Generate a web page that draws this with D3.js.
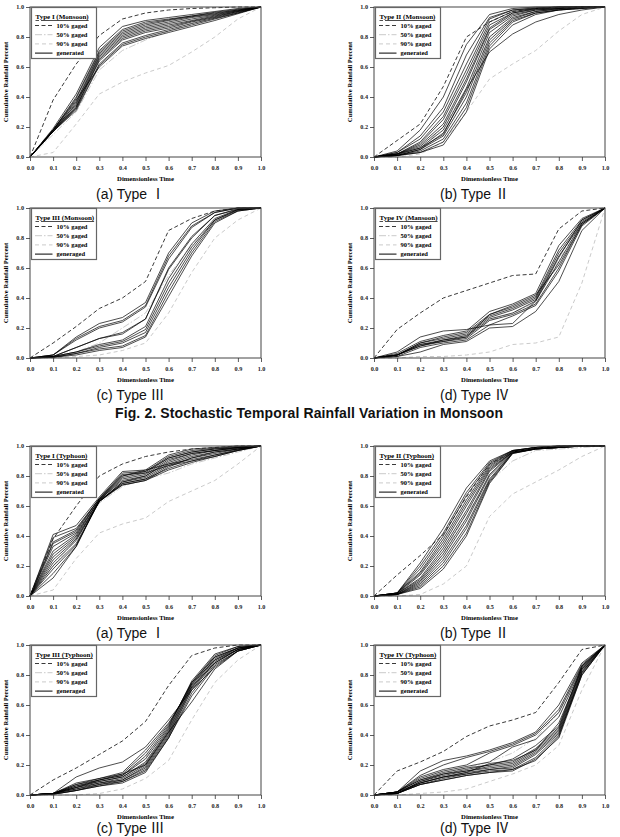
<!DOCTYPE html>
<html>
<head>
<meta charset="utf-8">
<script src="https://cdn.jsdelivr.net/npm/d3@7"></script>
<style>
  body { margin: 0; background: #fff; }
  svg { display: block; }
  .tick text { font-family: "Liberation Serif", serif; font-weight: bold; font-size: 6.2px; fill: #222; }
  .tick line { stroke: #333; stroke-width: 0.8; }
  .domain { display: none; }
</style>
</head>
<body>
<div id="chart"></div>
<script>
// dimensionless time steps and axis ticks
var timeSteps = [0, 0.1, 0.2, 0.3, 0.4, 0.5, 0.6, 0.7, 0.8, 0.9, 1.0];
var xTicks = [0, 0.1, 0.2, 0.3, 0.4, 0.5, 0.6, 0.7, 0.8, 0.9, 1.0];
var yTicks = [0, 0.2, 0.4, 0.6, 0.8, 1.0];

var legendLabels = ['10% gaged', '50% gaged', '90% gaged', 'generated'];
var captions = ['(a)  Type  \u2160', '(b)  Type  \u2161', '(c)  Type  \u2162', '(d)  Type  \u2163'];
var figTitle = 'Fig. 2. Stochastic Temporal Rainfall Variation in Monsoon';

// Type I (Monsoon)
var m1Gaged10 = [0, 0.38, 0.62, 0.81, 0.92, 0.96, 0.98, 0.99, 0.995, 1, 1];
var m1Gaged50 = [0, 0.15, 0.30, 0.58, 0.71, 0.78, 0.84, 0.89, 0.93, 0.97, 1];
var m1Gaged90 = [0, 0.03, 0.22, 0.42, 0.50, 0.56, 0.61, 0.70, 0.80, 0.92, 1];
var m1Gen = [
  [0, 0.19, 0.42, 0.73, 0.87, 0.91, 0.93, 0.95, 0.97, 0.99, 1],
  [0, 0.18, 0.40, 0.71, 0.85, 0.90, 0.92, 0.94, 0.965, 0.985, 1],
  [0, 0.18, 0.39, 0.70, 0.84, 0.89, 0.915, 0.94, 0.96, 0.98, 1],
  [0, 0.18, 0.37, 0.69, 0.83, 0.88, 0.91, 0.935, 0.955, 0.98, 1],
  [0, 0.17, 0.36, 0.68, 0.82, 0.87, 0.90, 0.93, 0.95, 0.975, 1],
  [0, 0.18, 0.35, 0.67, 0.81, 0.86, 0.89, 0.92, 0.945, 0.975, 1],
  [0, 0.17, 0.34, 0.66, 0.80, 0.85, 0.88, 0.91, 0.94, 0.97, 1],
  [0, 0.17, 0.33, 0.65, 0.79, 0.84, 0.87, 0.905, 0.935, 0.97, 1],
  [0, 0.18, 0.33, 0.64, 0.78, 0.83, 0.86, 0.90, 0.93, 0.965, 1],
  [0, 0.17, 0.32, 0.62, 0.76, 0.81, 0.85, 0.89, 0.925, 0.96, 1],
  [0, 0.17, 0.31, 0.61, 0.75, 0.80, 0.84, 0.88, 0.92, 0.96, 1],
  [0, 0.18, 0.38, 0.60, 0.74, 0.79, 0.83, 0.87, 0.91, 0.955, 1]
];

// Type II (Monsoon)
var m2Gaged10 = [0, 0.11, 0.22, 0.47, 0.80, 0.90, 0.97, 0.99, 1, 1, 1];
var m2Gaged50 = [0, 0.01, 0.05, 0.20, 0.45, 0.80, 0.92, 0.96, 0.98, 0.99, 1];
var m2Gaged90 = [0, 0.0, 0.02, 0.10, 0.30, 0.52, 0.62, 0.71, 0.84, 0.95, 1];
var m2Gen = [
  [0, 0.04, 0.18, 0.40, 0.75, 0.95, 0.99, 1, 1, 1, 1],
  [0, 0.03, 0.14, 0.33, 0.68, 0.93, 0.98, 0.995, 1, 1, 1],
  [0, 0.03, 0.12, 0.30, 0.62, 0.92, 0.98, 0.99, 1, 1, 1],
  [0, 0.02, 0.10, 0.27, 0.58, 0.90, 0.97, 0.99, 1, 1, 1],
  [0, 0.02, 0.09, 0.25, 0.55, 0.88, 0.96, 0.99, 0.995, 1, 1],
  [0, 0.02, 0.08, 0.22, 0.52, 0.86, 0.96, 0.985, 0.995, 1, 1],
  [0, 0.02, 0.07, 0.20, 0.50, 0.85, 0.95, 0.98, 0.99, 1, 1],
  [0, 0.015, 0.06, 0.18, 0.46, 0.83, 0.94, 0.98, 0.99, 1, 1],
  [0, 0.01, 0.05, 0.16, 0.43, 0.80, 0.93, 0.97, 0.99, 1, 1],
  [0, 0.01, 0.05, 0.14, 0.40, 0.78, 0.92, 0.97, 0.985, 0.995, 1],
  [0, 0.01, 0.04, 0.12, 0.36, 0.76, 0.91, 0.96, 0.98, 0.995, 1],
  [0, 0.01, 0.03, 0.10, 0.33, 0.74, 0.90, 0.96, 0.98, 0.99, 1],
  [0, 0.01, 0.03, 0.08, 0.30, 0.72, 0.88, 0.95, 0.98, 0.99, 1],
  [0, 0.02, 0.06, 0.15, 0.45, 0.70, 0.82, 0.90, 0.95, 0.98, 1]
];

// Type III (Monsoon)
var m3Gaged10 = [0, 0.10, 0.21, 0.33, 0.40, 0.51, 0.85, 0.93, 0.98, 1, 1];
var m3Gaged50 = [0, 0.01, 0.04, 0.10, 0.20, 0.30, 0.55, 0.75, 0.92, 0.98, 1];
var m3Gaged90 = [0, 0.0, 0.01, 0.02, 0.05, 0.10, 0.30, 0.57, 0.80, 0.92, 1];
var m3Gen = [
  [0, 0.02, 0.14, 0.23, 0.27, 0.37, 0.70, 0.90, 0.98, 1, 1],
  [0, 0.02, 0.13, 0.21, 0.25, 0.35, 0.68, 0.88, 0.97, 1, 1],
  [0, 0.02, 0.12, 0.20, 0.24, 0.34, 0.66, 0.87, 0.97, 1, 1],
  [0, 0.01, 0.07, 0.13, 0.17, 0.26, 0.60, 0.81, 0.95, 0.995, 1],
  [0, 0.01, 0.07, 0.13, 0.16, 0.26, 0.59, 0.80, 0.95, 0.99, 1],
  [0, 0.01, 0.04, 0.09, 0.12, 0.21, 0.53, 0.76, 0.93, 0.99, 1],
  [0, 0.01, 0.04, 0.08, 0.11, 0.19, 0.50, 0.74, 0.92, 0.99, 1],
  [0, 0.005, 0.03, 0.07, 0.10, 0.17, 0.47, 0.72, 0.92, 0.985, 1],
  [0, 0.005, 0.03, 0.06, 0.08, 0.15, 0.44, 0.70, 0.91, 0.98, 1],
  [0, 0.005, 0.02, 0.05, 0.07, 0.14, 0.41, 0.68, 0.90, 0.98, 1]
];

// Type IV (Monsoon)
var m4Gaged10 = [0, 0.19, 0.30, 0.40, 0.45, 0.50, 0.55, 0.56, 0.86, 0.98, 1];
var m4Gaged50 = [0, 0.02, 0.08, 0.12, 0.15, 0.25, 0.30, 0.37, 0.65, 0.90, 1];
var m4Gaged90 = [0, 0.0, 0.01, 0.01, 0.02, 0.04, 0.09, 0.10, 0.14, 0.50, 1];
var m4Gen = [
  [0, 0.04, 0.14, 0.18, 0.19, 0.22, 0.23, 0.38, 0.67, 0.92, 1],
  [0, 0.03, 0.11, 0.15, 0.18, 0.31, 0.36, 0.43, 0.75, 0.93, 1],
  [0, 0.02, 0.10, 0.14, 0.17, 0.29, 0.34, 0.41, 0.72, 0.92, 1],
  [0, 0.02, 0.10, 0.13, 0.16, 0.28, 0.33, 0.40, 0.70, 0.91, 1],
  [0, 0.02, 0.09, 0.12, 0.15, 0.27, 0.32, 0.39, 0.68, 0.90, 1],
  [0, 0.02, 0.08, 0.12, 0.14, 0.26, 0.30, 0.38, 0.64, 0.90, 1],
  [0, 0.02, 0.09, 0.11, 0.13, 0.25, 0.29, 0.36, 0.60, 0.89, 1],
  [0, 0.01, 0.07, 0.10, 0.12, 0.22, 0.28, 0.35, 0.58, 0.88, 1],
  [0, 0.01, 0.04, 0.09, 0.11, 0.20, 0.21, 0.31, 0.51, 0.85, 1],
  [0, 0.02, 0.08, 0.11, 0.14, 0.29, 0.35, 0.42, 0.62, 0.89, 1]
];

// Type I (Typhoon)
var t1Gaged10 = [0, 0.38, 0.60, 0.80, 0.88, 0.93, 0.96, 0.98, 0.99, 1, 1];
var t1Gaged50 = [0, 0.20, 0.38, 0.62, 0.73, 0.78, 0.82, 0.88, 0.92, 0.96, 1];
var t1Gaged90 = [0, 0.04, 0.25, 0.42, 0.48, 0.52, 0.63, 0.70, 0.77, 0.88, 1];
var t1Gen = [
  [0, 0.41, 0.47, 0.66, 0.83, 0.84, 0.94, 0.98, 0.99, 1, 1],
  [0, 0.36, 0.44, 0.65, 0.82, 0.83, 0.93, 0.97, 0.985, 0.995, 1],
  [0, 0.35, 0.43, 0.65, 0.80, 0.83, 0.92, 0.96, 0.98, 0.99, 1],
  [0, 0.33, 0.42, 0.64, 0.79, 0.82, 0.92, 0.96, 0.98, 0.99, 1],
  [0, 0.30, 0.41, 0.64, 0.78, 0.81, 0.91, 0.95, 0.97, 0.99, 1],
  [0, 0.28, 0.40, 0.64, 0.77, 0.80, 0.90, 0.95, 0.97, 0.99, 1],
  [0, 0.26, 0.39, 0.63, 0.76, 0.80, 0.89, 0.94, 0.97, 0.985, 1],
  [0, 0.24, 0.38, 0.63, 0.76, 0.79, 0.88, 0.93, 0.96, 0.98, 1],
  [0, 0.22, 0.37, 0.63, 0.75, 0.78, 0.87, 0.92, 0.96, 0.98, 1],
  [0, 0.20, 0.35, 0.63, 0.74, 0.77, 0.86, 0.92, 0.95, 0.98, 1],
  [0, 0.18, 0.34, 0.63, 0.75, 0.78, 0.85, 0.90, 0.94, 0.975, 1],
  [0, 0.15, 0.33, 0.64, 0.74, 0.77, 0.84, 0.89, 0.93, 0.97, 1],
  [0, 0.12, 0.33, 0.64, 0.80, 0.84, 0.88, 0.91, 0.94, 0.97, 1],
  [0, 0.39, 0.45, 0.65, 0.81, 0.82, 0.87, 0.90, 0.93, 0.97, 1]
];

// Type II (Typhoon)
var t2Gaged10 = [0, 0.14, 0.27, 0.41, 0.66, 0.88, 0.96, 0.99, 1, 1, 1];
var t2Gaged50 = [0, 0.02, 0.10, 0.28, 0.55, 0.76, 0.90, 0.97, 0.98, 0.99, 1];
var t2Gaged90 = [0, 0.0, 0.01, 0.08, 0.20, 0.53, 0.68, 0.76, 0.84, 0.93, 1];
var t2Gen = [
  [0, 0.02, 0.22, 0.45, 0.72, 0.90, 0.97, 0.99, 1, 1, 1],
  [0, 0.02, 0.20, 0.42, 0.69, 0.89, 0.97, 0.99, 1, 1, 1],
  [0, 0.02, 0.18, 0.40, 0.67, 0.88, 0.97, 0.99, 1, 1, 1],
  [0, 0.02, 0.16, 0.38, 0.64, 0.87, 0.965, 0.99, 0.995, 1, 1],
  [0, 0.02, 0.15, 0.36, 0.62, 0.86, 0.965, 0.99, 0.995, 1, 1],
  [0, 0.015, 0.14, 0.34, 0.60, 0.85, 0.96, 0.99, 0.995, 1, 1],
  [0, 0.015, 0.12, 0.32, 0.57, 0.84, 0.96, 0.985, 0.995, 1, 1],
  [0, 0.015, 0.11, 0.30, 0.55, 0.83, 0.96, 0.985, 0.995, 1, 1],
  [0, 0.01, 0.10, 0.28, 0.52, 0.81, 0.96, 0.985, 0.99, 1, 1],
  [0, 0.01, 0.09, 0.26, 0.50, 0.80, 0.955, 0.98, 0.99, 1, 1],
  [0, 0.01, 0.08, 0.24, 0.47, 0.78, 0.955, 0.98, 0.99, 1, 1],
  [0, 0.01, 0.07, 0.22, 0.45, 0.77, 0.955, 0.98, 0.99, 1, 1],
  [0, 0.01, 0.06, 0.20, 0.42, 0.76, 0.95, 0.98, 0.99, 1, 1],
  [0, 0.01, 0.05, 0.18, 0.40, 0.75, 0.95, 0.98, 0.99, 1, 1]
];

// Type III (Typhoon)
var t3Gaged10 = [0, 0.10, 0.18, 0.27, 0.36, 0.49, 0.73, 0.93, 0.98, 1, 1];
var t3Gaged50 = [0, 0.01, 0.03, 0.07, 0.13, 0.25, 0.45, 0.70, 0.88, 0.97, 1];
var t3Gaged90 = [0, 0.0, 0.0, 0.01, 0.04, 0.11, 0.23, 0.50, 0.75, 0.90, 1];
var t3Gen = [
  [0, 0.01, 0.12, 0.18, 0.22, 0.32, 0.50, 0.70, 0.85, 0.96, 1],
  [0, 0.01, 0.08, 0.11, 0.15, 0.30, 0.48, 0.72, 0.88, 0.97, 1],
  [0, 0.01, 0.07, 0.11, 0.14, 0.28, 0.47, 0.74, 0.90, 0.98, 1],
  [0, 0.01, 0.07, 0.10, 0.13, 0.26, 0.46, 0.75, 0.92, 0.98, 1],
  [0, 0.01, 0.06, 0.10, 0.13, 0.24, 0.45, 0.76, 0.94, 0.99, 1],
  [0, 0.01, 0.06, 0.09, 0.12, 0.22, 0.44, 0.75, 0.93, 0.99, 1],
  [0, 0.01, 0.05, 0.09, 0.12, 0.21, 0.43, 0.74, 0.92, 0.98, 1],
  [0, 0.01, 0.05, 0.08, 0.11, 0.20, 0.42, 0.73, 0.91, 0.98, 1],
  [0, 0.01, 0.04, 0.08, 0.10, 0.19, 0.41, 0.72, 0.90, 0.97, 1],
  [0, 0.01, 0.04, 0.07, 0.10, 0.18, 0.40, 0.71, 0.89, 0.97, 1],
  [0, 0.005, 0.03, 0.07, 0.09, 0.17, 0.39, 0.70, 0.88, 0.97, 1],
  [0, 0.005, 0.03, 0.06, 0.09, 0.16, 0.38, 0.68, 0.87, 0.96, 1],
  [0, 0.005, 0.03, 0.06, 0.08, 0.15, 0.38, 0.66, 0.86, 0.96, 1],
  [0, 0.01, 0.05, 0.10, 0.14, 0.20, 0.42, 0.62, 0.84, 0.96, 1]
];

// Type IV (Typhoon)
var t4Gaged10 = [0, 0.16, 0.22, 0.29, 0.39, 0.46, 0.50, 0.55, 0.75, 0.97, 1];
var t4Gaged50 = [0, 0.02, 0.08, 0.14, 0.18, 0.22, 0.28, 0.38, 0.55, 0.86, 1];
var t4Gaged90 = [0, 0.0, 0.01, 0.02, 0.04, 0.09, 0.14, 0.20, 0.33, 0.70, 1];
var t4Gen = [
  [0, 0.02, 0.16, 0.23, 0.26, 0.30, 0.35, 0.42, 0.60, 0.88, 1],
  [0, 0.02, 0.13, 0.20, 0.25, 0.29, 0.34, 0.41, 0.57, 0.87, 1],
  [0, 0.02, 0.12, 0.17, 0.20, 0.28, 0.33, 0.40, 0.55, 0.86, 1],
  [0, 0.02, 0.11, 0.16, 0.19, 0.22, 0.32, 0.37, 0.52, 0.85, 1],
  [0, 0.02, 0.10, 0.15, 0.18, 0.20, 0.24, 0.33, 0.46, 0.86, 1],
  [0, 0.02, 0.10, 0.14, 0.17, 0.20, 0.22, 0.31, 0.45, 0.85, 1],
  [0, 0.01, 0.09, 0.14, 0.16, 0.19, 0.21, 0.30, 0.44, 0.84, 1],
  [0, 0.01, 0.09, 0.13, 0.16, 0.18, 0.20, 0.29, 0.43, 0.83, 1],
  [0, 0.01, 0.08, 0.12, 0.15, 0.17, 0.19, 0.28, 0.42, 0.82, 1],
  [0, 0.01, 0.08, 0.12, 0.14, 0.17, 0.18, 0.27, 0.41, 0.81, 1],
  [0, 0.01, 0.07, 0.11, 0.14, 0.16, 0.17, 0.25, 0.40, 0.80, 1],
  [0, 0.01, 0.07, 0.10, 0.13, 0.15, 0.16, 0.24, 0.38, 0.80, 1],
  [0, 0.01, 0.07, 0.10, 0.13, 0.15, 0.17, 0.23, 0.39, 0.82, 1],
  [0, 0.02, 0.08, 0.12, 0.15, 0.21, 0.23, 0.30, 0.48, 0.84, 1]
];

var panels = [
  { title: 'Type I (Monsoon)', gen: 'generated', g10: m1Gaged10, g50: m1Gaged50, g90: m1Gaged90, lines: m1Gen, col: 0, row: 0, cap: 0 },
  { title: 'Type II (Monsoon)', gen: 'generated', g10: m2Gaged10, g50: m2Gaged50, g90: m2Gaged90, lines: m2Gen, col: 1, row: 0, cap: 1 },
  { title: 'Type III (Monsoon)', gen: 'generaged', g10: m3Gaged10, g50: m3Gaged50, g90: m3Gaged90, lines: m3Gen, col: 0, row: 1, cap: 2 },
  { title: 'Type IV (Mansoon)', gen: 'generated', g10: m4Gaged10, g50: m4Gaged50, g90: m4Gaged90, lines: m4Gen, col: 1, row: 1, cap: 3 },
  { title: 'Type I (Typhoon)', gen: 'generated', g10: t1Gaged10, g50: t1Gaged50, g90: t1Gaged90, lines: t1Gen, col: 0, row: 2, cap: 0 },
  { title: 'Type II (Typhoon)', gen: 'generated', g10: t2Gaged10, g50: t2Gaged50, g90: t2Gaged90, lines: t2Gen, col: 1, row: 2, cap: 1 },
  { title: 'Type III (Typhoon)', gen: 'generaged', g10: t3Gaged10, g50: t3Gaged50, g90: t3Gaged90, lines: t3Gen, col: 0, row: 3, cap: 2 },
  { title: 'Type IV (Typhoon)', gen: 'generated', g10: t4Gaged10, g50: t4Gaged50, g90: t4Gaged90, lines: t4Gen, col: 1, row: 3, cap: 3 }
];

var W = 620, H = 837;
var colX = [30, 374], plotW = 231;
var rowY = [7, 208, 446, 645], plotH = 150;
// caption baseline below the plot; last row is pulled up to stay on the page
var capGap = [42, 42, 42, 38];

var svg = d3.select('#chart').append('svg')
  .attr('width', W)
  .attr('height', H);

var styles = {
  g10: { stroke: '#222', width: 0.9, dash: '4,2.5' },
  g50: { stroke: '#c4c4c4', width: 0.9, dash: '7,2,1.5,2' },
  g90: { stroke: '#c4c4c4', width: 0.9, dash: '4,3' },
  gen: { stroke: '#000', width: 0.7, dash: null }
};

panels.forEach(function(p) {
  var x0 = colX[p.col], y0 = rowY[p.row];
  var x = d3.scaleLinear().domain([0, 1]).range([0, plotW]);
  var y = d3.scaleLinear().domain([0, 1]).range([plotH, 0]);
  var line = d3.line()
    .x(function(d, i) { return x(timeSteps[i]); })
    .y(function(d) { return y(d); });

  var g = svg.append('g').attr('transform', 'translate(' + x0 + ',' + y0 + ')');

  function draw(data, s) {
    g.append('path')
      .attr('d', line(data))
      .style('fill', 'none')
      .style('stroke', s.stroke)
      .style('stroke-width', s.width)
      .style('stroke-dasharray', s.dash);
  }

  draw(p.g50, styles.g50);
  draw(p.g90, styles.g90);
  p.lines.forEach(function(l) { draw(l, styles.gen); });
  draw(p.g10, styles.g10);

  // frame
  g.append('rect')
    .attr('width', plotW).attr('height', plotH)
    .style('fill', 'none')
    .style('stroke', '#444')
    .style('stroke-width', 1);

  g.append('g')
    .attr('transform', 'translate(0,' + plotH + ')')
    .call(d3.axisBottom(x).tickValues(xTicks).tickSize(4).tickPadding(5).tickFormat(d3.format('.1f')));
  g.append('g')
    .call(d3.axisLeft(y).tickValues(yTicks).tickSize(4).tickPadding(2).tickFormat(d3.format('.1f')));

  g.append('text')
    .attr('x', plotW / 2).attr('y', plotH + 23.5)
    .attr('text-anchor', 'middle')
    .style('font-family', '"Liberation Serif", serif')
    .style('font-weight', 'bold')
    .style('font-size', '6.7px')
    .text('Dimensionless Time');

  g.append('text')
    .attr('transform', 'translate(-22,' + (plotH / 2) + ') rotate(-90)')
    .attr('text-anchor', 'middle')
    .style('font-family', '"Liberation Serif", serif')
    .style('font-weight', 'bold')
    .style('font-size', '6.6px')
    .text('Cumulative Rainfall Percent');

  // legend
  var lg = g.append('g').attr('transform', 'translate(1.5,0.5)');
  lg.append('rect')
    .attr('width', 65).attr('height', 51)
    .style('fill', '#fff')
    .style('stroke', '#666')
    .style('stroke-width', 1.2);
  lg.append('text')
    .attr('x', 4).attr('y', 11.5)
    .style('font-family', '"Liberation Serif", serif')
    .style('font-weight', 'bold')
    .style('font-size', '7px')
    .style('text-decoration', 'underline')
    .text(p.title);
  var keys = ['g10', 'g50', 'g90', 'gen'];
  keys.forEach(function(k, i) {
    var ly = 18 + i * 9.2;
    lg.append('line')
      .attr('x1', 3.5).attr('x2', 21)
      .attr('y1', ly).attr('y2', ly)
      .style('stroke', styles[k].stroke)
      .style('stroke-width', k === 'gen' ? 1 : styles[k].width)
      .style('stroke-dasharray', styles[k].dash);
    lg.append('text')
      .attr('x', 25).attr('y', ly + 2.2)
      .style('font-family', '"Liberation Serif", serif')
      .style('font-weight', 'bold')
      .style('font-size', '6.5px')
      .text(k === 'gen' ? p.gen : legendLabels[i]);
  });

  // caption
  g.append('text')
    .attr('x', plotW / 2 - 15).attr('y', plotH + capGap[p.row])
    .attr('text-anchor', 'middle')
    .style('font-family', '"Liberation Sans", "Noto Sans CJK KR", sans-serif')
    .style('font-size', '14px')
    .style('fill', '#111')
    .text(captions[p.cap]);
});

svg.append('text')
  .attr('x', 115).attr('y', 418)
  .attr('textLength', 388)
  .attr('lengthAdjust', 'spacing')
  .style('font-family', '"Liberation Sans", sans-serif')
  .style('font-weight', 'bold')
  .style('font-size', '14px')
  .style('fill', '#111')
  .text(figTitle);
</script>
</body>
</html>
